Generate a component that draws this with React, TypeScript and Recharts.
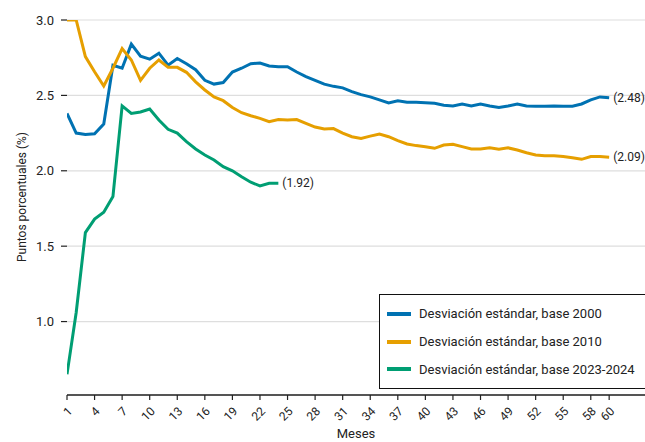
import { LineChart, Line, XAxis, YAxis, CartesianGrid, Label } from 'recharts';

// desviación estándar por mes (puntos porcentuales)
const base2000 = [
  2.38, 2.25, 2.24, 2.245, 2.31, 2.7, 2.68, 2.84, 2.76, 2.74,
  2.78, 2.7, 2.745, 2.71, 2.67, 2.6, 2.575, 2.585, 2.655, 2.68,
  2.71, 2.715, 2.695, 2.69, 2.69, 2.655, 2.625, 2.6, 2.575, 2.56,
  2.55, 2.525, 2.505, 2.49, 2.47, 2.45, 2.465, 2.455, 2.455, 2.452,
  2.448, 2.435, 2.43, 2.443, 2.43, 2.443, 2.43, 2.42, 2.43, 2.443,
  2.43, 2.428, 2.428, 2.43, 2.428, 2.428, 2.443, 2.47, 2.49, 2.485,
];

const base2010 = [
  3.0, 3.0, 2.757, 2.657, 2.562, 2.68, 2.81, 2.735, 2.6, 2.68,
  2.735, 2.686, 2.686, 2.653, 2.59, 2.536, 2.49, 2.465, 2.42, 2.385,
  2.365, 2.348, 2.326, 2.34, 2.337, 2.34, 2.315, 2.29, 2.277, 2.28,
  2.25, 2.226, 2.215, 2.23, 2.244, 2.226, 2.2, 2.178, 2.167, 2.16,
  2.149, 2.171, 2.176, 2.16, 2.145, 2.145, 2.152, 2.143, 2.152, 2.138,
  2.12, 2.105, 2.1, 2.1, 2.094, 2.087, 2.076, 2.094, 2.094, 2.09,
];

const base2023 = [
  0.65, 1.06, 1.59, 1.68, 1.725, 1.83, 2.43, 2.38, 2.39, 2.41,
  2.337, 2.275, 2.25, 2.193, 2.145, 2.105, 2.072, 2.027, 2.0, 1.96,
  1.924, 1.9, 1.917, 1.917,
];

const xTicks = [1, 4, 7, 10, 13, 16, 19, 22, 25, 28, 31, 34, 37, 40, 43, 46, 49, 52, 55, 58, 60];
const yTicks = [1.0, 1.5, 2.0, 2.5, 3.0];

const series = [
  { key: 'b2000', name: 'Desviación estándar, base 2000', color: '#0072b2', values: base2000, end: '(2.48)' },
  { key: 'b2010', name: 'Desviación estándar, base 2010', color: '#e69f00', values: base2010, end: '(2.09)' },
  { key: 'b2023', name: 'Desviación estándar, base 2023-2024', color: '#009e73', values: base2023, end: '(1.92)' },
];

const data = base2000.map((_, i) => ({
  mes: i + 1,
  b2000: base2000[i],
  b2010: base2010[i],
  b2023: base2023[i],
}));

const FONT = 'Roboto, "Noto Sans", sans-serif';
const ink = '#222';

const MonthTick = ({ x, y, payload }: any) => (
  <text
    x={x + 6}
    y={y + 10}
    transform={`rotate(-45, ${x + 6}, ${y + 10})`}
    textAnchor="end"
    fontSize={12}
    fontFamily={FONT}
    fill={ink}
  >
    {payload.value}
  </text>
);

// caja de leyenda, encima del gráfico (no ocupa espacio del área de trazado)
const LegendBox = () => (
  <div
    style={{
      position: 'absolute',
      left: 379,
      top: 294,
      width: 275,
      boxSizing: 'border-box',
      border: '1.5px solid #111',
      background: '#fff',
      padding: '5px 0 5px 7px',
      fontFamily: FONT,
      fontSize: 13,
      color: ink,
    }}
  >
    {series.map((s) => (
      <div key={s.key} style={{ display: 'flex', alignItems: 'center', height: 27.7 }}>
        <span style={{ width: 24, height: 4, background: s.color, marginRight: 8 }} />
        <span>{s.name}</span>
      </div>
    ))}
  </div>
);

const endLabel = (text: string, last: number) => (p: any) =>
  p.index === last && p.x != null ? (
    <text x={p.x + 4} y={p.y} dominantBaseline="central" fontSize={12} fontFamily={FONT} fill={ink}>
      {text}
    </text>
  ) : null;

export default function App() {
  return (
    <div style={{ position: 'absolute', left: 0, top: 0, width: 645, height: 442, overflow: 'hidden', background: '#fff' }}>
      <LineChart width={645} height={442} data={data} margin={{ top: 20, right: 0, left: 0, bottom: 0 }}>
        <CartesianGrid vertical={false} stroke="#dedede" strokeWidth={1.2} />
        <XAxis
          type="number"
          dataKey="mes"
          domain={[1, 63.9]}
          ticks={xTicks}
          interval={0}
          allowDataOverflow
          height={47}
          tick={<MonthTick />}
          tickSize={5}
          axisLine={{ stroke: ink, strokeWidth: 1.5 }}
          tickLine={{ stroke: ink, strokeWidth: 1.2 }}
        >
          <Label value="Meses" position="insideBottom" offset={4} fontSize={13} fontFamily={FONT} fill={ink} />
        </XAxis>
        <YAxis
          type="number"
          domain={[0.513, 3]}
          ticks={yTicks}
          allowDataOverflow
          width={67}
          axisLine={false}
          tickSize={6}
          tickMargin={7}
          tickFormatter={(v: number) => v.toFixed(1)}
          tick={{ fontSize: 13, fontFamily: FONT, fill: ink }}
          tickLine={{ stroke: ink, strokeWidth: 1.2 }}
        >
          <Label
            content={() => (
              <text
                x={22}
                y={197}
                transform="rotate(-90, 22, 197)"
                textAnchor="middle"
                dominantBaseline="central"
                fontSize={12}
                fontFamily={FONT}
                fill={ink}
              >
                Puntos porcentuales (%)
              </text>
            )}
          />
        </YAxis>
        {series.map((s) => (
          <Line
            key={s.key}
            type="linear"
            dataKey={s.key}
            name={s.name}
            stroke={s.color}
            strokeWidth={3}
            dot={false}
            isAnimationActive={false}
            label={endLabel(s.end, s.values.length - 1)}
          />
        ))}
      </LineChart>
      <LegendBox />
    </div>
  );
}
